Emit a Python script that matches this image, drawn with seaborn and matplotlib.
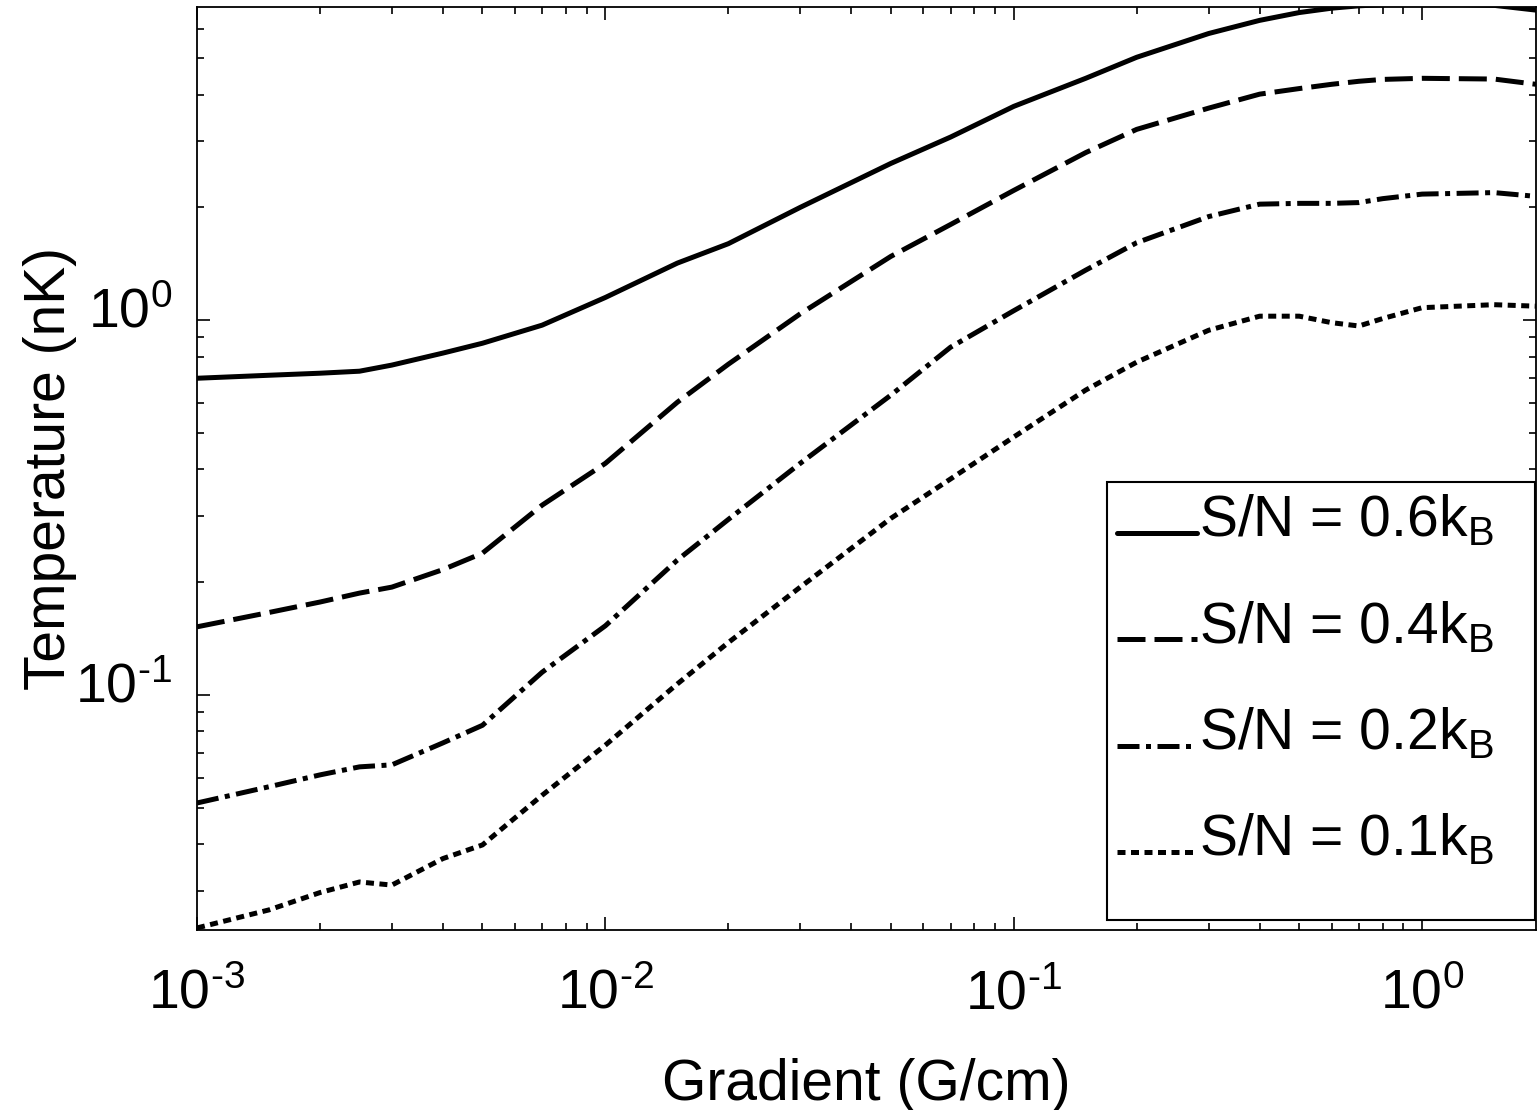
import math
import matplotlib
matplotlib.use("Agg")
import matplotlib.pyplot as plt
from matplotlib.ticker import LogLocator, NullFormatter, FuncFormatter
from matplotlib.legend_handler import HandlerLine2D
from matplotlib.patches import Rectangle
from matplotlib.transforms import ScaledTranslation
import pandas as pd
import seaborn as sns

# Field gradient (G/cm)
gradient = [1e-3, 1.5e-3, 2e-3, 2.5e-3, 3e-3, 4e-3, 5e-3, 7e-3, 1e-2, 1.5e-2,
            2e-2, 3e-2, 5e-2, 7e-2, 0.1, 0.15, 0.2, 0.3, 0.4, 0.5,
            0.6, 0.7, 0.8, 1.0, 1.5, 1.9]

# Temperature (nK) for each entropy per particle
temp_06 = [0.70, 0.713, 0.722, 0.731, 0.759, 0.817, 0.868, 0.97, 1.15, 1.42,
           1.60, 2.0, 2.62, 3.08, 3.72, 4.42, 5.03, 5.82, 6.31, 6.62,
           6.80, 6.90, 6.95, 7.0, 6.92, 6.72]
temp_04 = [0.152, 0.166, 0.177, 0.187, 0.194, 0.216, 0.239, 0.321, 0.415, 0.604,
           0.763, 1.04, 1.48, 1.80, 2.22, 2.80, 3.23, 3.68, 4.01, 4.15,
           4.26, 4.34, 4.39, 4.42, 4.40, 4.26]
temp_02 = [0.0515, 0.0569, 0.0612, 0.0643, 0.0651, 0.0745, 0.083, 0.115, 0.153, 0.229,
           0.294, 0.415, 0.631, 0.847, 1.06, 1.36, 1.61, 1.89, 2.04, 2.05,
           2.05, 2.06, 2.11, 2.17, 2.19, 2.14]
temp_01 = [0.0239, 0.0267, 0.0297, 0.0317, 0.0311, 0.0366, 0.0398, 0.054, 0.0735, 0.107,
           0.138, 0.194, 0.296, 0.377, 0.488, 0.651, 0.773, 0.94, 1.025, 1.025,
           0.985, 0.965, 1.01, 1.08, 1.10, 1.09]

series_labels = [r"S/N = 0.6k$_\mathregular{B}$", r"S/N = 0.4k$_\mathregular{B}$",
                 r"S/N = 0.2k$_\mathregular{B}$", r"S/N = 0.1k$_\mathregular{B}$"]

sns.set_style("ticks")
plt.rcParams["font.family"] = ["Liberation Sans", "DejaVu Sans"]
plt.rcParams["mathtext.fontset"] = "custom"
plt.rcParams["mathtext.rm"] = "Liberation Sans"
plt.rcParams["mathtext.it"] = "Liberation Sans:italic"
plt.rcParams["axes.unicode_minus"] = False
for key in ["text.color", "axes.labelcolor", "xtick.color", "ytick.color", "axes.edgecolor"]:
    plt.rcParams[key] = "black"


class BaselineLine(HandlerLine2D):
    """Legend sample drawn along the text baseline, like an underscore."""

    def create_artists(self, legend, orig_handle, xdescent, ydescent,
                       width, height, fontsize, trans):
        artists = super().create_artists(legend, orig_handle, xdescent, ydescent,
                                         width, height, fontsize, trans)
        for art in artists:
            yd = art.get_ydata()
            art.set_ydata([0.06 * fontsize] * len(yd))
        return artists


def decade_label(value, pos):
    exp = int(round(math.log10(value)))
    sup = r"\text{-}" + str(-exp) if exp < 0 else str(exp)
    return r"$\mathregular{10^{" + sup + r"}}$"


fig = plt.figure(figsize=(15.38, 11.10), dpi=100)
ax = fig.add_axes([197 / 1538, 180 / 1110, (1536 - 197) / 1538, (930 - 7) / 1110])

styles = [
    "-",
    (0, (5.6, 1.8)),
    (0, (4.4, 1.3, 1.0, 1.3)),
    (0, (1.6, 1.1)),
]
curves = [temp_06, temp_04, temp_02, temp_01]

for vals, ls, lab in zip(curves, styles, series_labels):
    df = pd.DataFrame({"gradient": gradient, "temperature": vals})
    sns.lineplot(data=df, x="gradient", y="temperature", ax=ax, color="black",
                 linewidth=3.6, linestyle=ls, label=lab, sort=True)

ax.set_xscale("log")
ax.set_yscale("log")
ax.set_xlim(1e-3, 1.9)
ax.set_ylim(0.0236, 6.85)

ax.xaxis.set_major_locator(LogLocator(base=10))
ax.yaxis.set_major_locator(LogLocator(base=10))
ax.xaxis.set_minor_locator(LogLocator(base=10, subs=range(2, 10)))
ax.yaxis.set_minor_locator(LogLocator(base=10, subs=range(2, 10)))
ax.xaxis.set_major_formatter(FuncFormatter(decade_label))
ax.yaxis.set_major_formatter(FuncFormatter(decade_label))
ax.xaxis.set_minor_formatter(NullFormatter())
ax.yaxis.set_minor_formatter(NullFormatter())

ax.tick_params(which="both", direction="in", top=True, right=True,
               color="black", width=1.2)
ax.tick_params(which="major", length=9.5, labelsize=40)
ax.tick_params(which="minor", length=5)
ax.tick_params(axis="x", which="major", pad=28)
ax.tick_params(axis="y", which="major", pad=18)

# y tick labels sit on their baseline, slightly below the tick
shift = ScaledTranslation(0, -5 / 72, fig.dpi_scale_trans)
for lab in ax.get_yticklabels():
    lab.set_verticalalignment("baseline")
    lab.set_transform(lab.get_transform() + shift)

for sp in ax.spines.values():
    sp.set_linewidth(1.3)
    sp.set_color("black")

ax.set_xlabel("Gradient (G/cm)", fontsize=41)
ax.set_ylabel("Temperature (nK)", fontsize=41)
ax.xaxis.set_label_coords(0.5, -0.139)
ax.yaxis.set_label_coords(-0.0896, 0.5)

# Legend entries without their own frame; the box is drawn as a separate patch
handles, labels = ax.get_legend_handles_labels()
leg = ax.legend(handles, labels, loc="upper left",
                bbox_to_anchor=(0.687, 0.473), borderaxespad=0,
                fontsize=41, handlelength=1.4, handletextpad=0.05,
                labelspacing=0.90, borderpad=0, frameon=False,
                handler_map={h: BaselineLine() for h in handles})
box = Rectangle((0.6796, 0.0108), 0.9993 - 0.6796, 0.4854 - 0.0108,
                transform=ax.transAxes, facecolor="white", edgecolor="black",
                linewidth=1.5, zorder=4)
ax.add_patch(box)
leg.set_zorder(5)

fig.savefig("out.png", dpi=100, facecolor="white")
